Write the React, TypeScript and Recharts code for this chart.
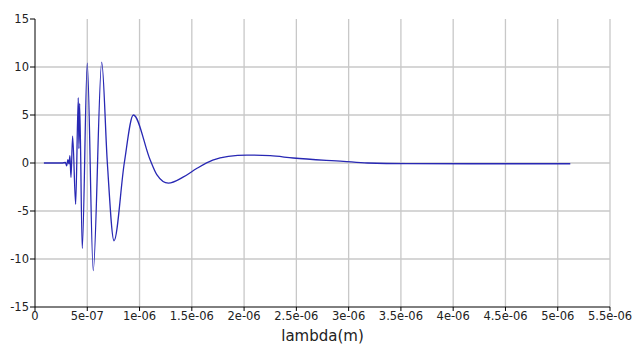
import { LineChart, Line, XAxis, YAxis, CartesianGrid } from 'recharts'

// wavelength in metres
const lambdaM = [
    0.085e-6, 0.19e-6, 0.258e-6, 0.291e-6, 0.303e-6, 0.315e-6, 0.325e-6, 0.334e-6, 0.344e-6,
    0.36e-6, 0.389e-6, 0.414e-6, 0.42e-6, 0.427e-6, 0.452e-6, 0.5e-6, 0.557e-6, 0.638e-6,
    0.692e-6, 0.756e-6, 0.854e-6, 0.941e-6, 1.101e-6, 1.165e-6, 1.276e-6, 1.42e-6, 1.55e-6,
    1.7e-6, 1.85e-6, 2.027e-6, 2.25e-6, 2.47e-6, 2.95e-6, 3.18e-6, 3.56e-6,
    4.17e-6, 5.12e-6,
]
const values = [
    0, 0, 0, 0.05, -0.3, 0.35, -0.1, 0.76, -1.5,
    2.8, -4.3, 6.8, 1.5, 6.2, -8.9, 10.4, -11.2, 10.5,
    0, -8.1, 0, 5.0, 0.34, -1.2, -2.1, -1.45, -0.55,
    0.3, 0.7, 0.83, 0.76, 0.52, 0.17, 0, -0.07,
    -0.08, -0.08,
]
const xTicks = [0, 5e-7, 1e-6, 1.5e-6, 2e-6, 2.5e-6, 3e-6, 3.5e-6, 4e-6, 4.5e-6, 5e-6, 5.5e-6]
const yTicks = [-15, -10, -5, 0, 5, 10, 15]

const data = lambdaM.map((l, i) => ({ lambda: l, v: values[i] }))

const fmtX = (v: number) => {
    if (v === 0) return '0'
    const [m, e] = v.toExponential().split('e')
    const n = Math.abs(parseInt(e, 10))
    return `${m}e${e.startsWith('-') ? '-' : '+'}${n < 10 ? '0' + n : n}`
}

const tickStyle = { fontFamily: 'DejaVu Sans', fontSize: 11.5, fill: '#222' }

export default function App() {
    return (
        <div style={{ position: 'absolute', left: 0, top: 0, background: '#fff' }}>
            <LineChart width={633} height={345} data={data} margin={{ top: 19, right: 23, left: 0, bottom: 0 }}>
                <CartesianGrid
                    stroke="#c8c8c8"
                    strokeWidth={1.3}
                    horizontalValues={[-10, -5, 0, 5, 10]}
                    verticalValues={xTicks.slice(1)}
                />
                <XAxis
                    dataKey="lambda"
                    type="number"
                    domain={[0, 5.5e-6]}
                    ticks={xTicks}
                    tickFormatter={fmtX}
                    interval={0}
                    height={38}
                    tickSize={4}
                    tickMargin={1}
                    stroke="#000"
                    tick={tickStyle}
                    label={{ value: 'lambda(m)', position: 'insideBottom', offset: 4, style: { fontFamily: 'DejaVu Sans', fontSize: 15, fill: '#222' } }}
                />
                <YAxis
                    type="number"
                    domain={[-15, 15]}
                    ticks={yTicks}
                    interval={0}
                    width={35}
                    tickSize={5}
                    tickMargin={1}
                    stroke="#000"
                    tick={tickStyle}
                />
                <Line
                    dataKey="v"
                    type="monotone"
                    stroke="#2828b4"
                    strokeWidth={1.3}
                    dot={false}
                    isAnimationActive={false}
                />
            </LineChart>
        </div>
    )
}
